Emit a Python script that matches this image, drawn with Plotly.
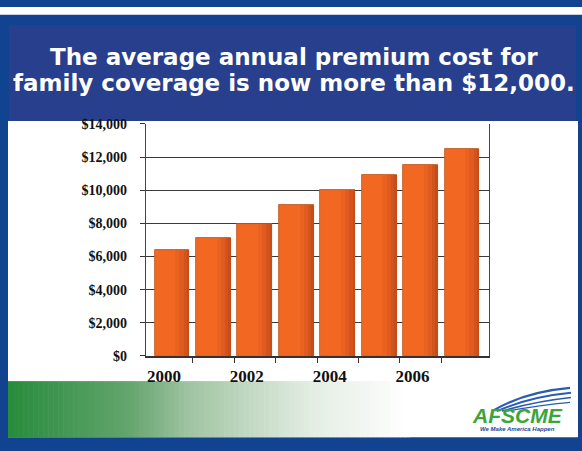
import plotly.graph_objects as go

# ---- data ----
years = [2000, 2001, 2002, 2003, 2004, 2005, 2006, 2007]
premiums = [6400, 7100, 7950, 9100, 10000, 10900, 11500, 12500]
y_ticks = [0, 2000, 4000, 6000, 8000, 10000, 12000, 14000]
x_label_years = [2000, 2002, 2004, 2006]
title_lines = ["The average annual premium cost for",
               "family coverage is now more than $12,000."]

W, H = 582, 451


def px(x):
    return x / W


def py(y):
    return 1 - y / H


fig = go.Figure()

# main cylinder body
fig.add_trace(go.Bar(
    x=years, y=premiums, width=0.84,
    marker=dict(color="#f26822", line=dict(color="#b9561c", width=0.8)),
    hoverinfo="x+y", showlegend=False,
))
# shading toward the right edge (cylinder look)
for off, w, c in [(0.08, 0.34, "#ea6220"), (0.18, 0.24, "#df5b1f"),
                  (0.28, 0.14, "#d2541d"), (0.36, 0.06, "#c44d1b")]:
    fig.add_trace(go.Bar(
        x=years, y=premiums, width=w, offset=off,
        marker=dict(color=c, line=dict(width=0)),
        hoverinfo="skip", showlegend=False,
    ))

shapes = []
# top white strip
shapes.append(dict(type="rect", xref="paper", yref="paper", x0=0, x1=1,
                   y0=py(8), y1=1, fillcolor="white", line=dict(width=0), layer="below"))
# title panel
shapes.append(dict(type="rect", xref="paper", yref="paper", x0=px(9), x1=px(576),
                   y0=py(118), y1=py(19), fillcolor="#283f8d", line=dict(width=0), layer="below"))
# white content area
shapes.append(dict(type="rect", xref="paper", yref="paper", x0=px(8), x1=px(578),
                   y0=py(445), y1=py(118), fillcolor="white", line=dict(width=0), layer="below"))

# green gradient band
stops = [(0.0, (40, 140, 60)), (0.3, (100, 165, 110)), (0.45, (160, 196, 162)),
         (0.75, (226, 236, 226)), (1.0, (255, 255, 255))]


def col(t):
    for (t0, c0), (t1, c1) in zip(stops[:-1], stops[1:]):
        if t0 <= t <= t1:
            f = (t - t0) / (t1 - t0)
            return "rgb(%d,%d,%d)" % tuple(round(a + (b - a) * f) for a, b in zip(c0, c1))
    return "white"


n = 80
gx0, gx1 = 8, 410
for i in range(n):
    a = gx0 + (gx1 - gx0) * i / n
    b = gx0 + (gx1 - gx0) * (i + 1) / n + 0.6
    shapes.append(dict(type="rect", xref="paper", yref="paper", x0=px(a), x1=px(b),
                       y0=py(445), y1=py(387), fillcolor=col(i / (n - 1)),
                       line=dict(width=0), layer="below"))

# logo swoosh
for k, (sx, sy, ex, ey, cx, cy) in enumerate([
        (492, 418, 570, 394, 525, 398),
        (497, 418, 571, 399, 530, 403),
        (502, 418, 571, 404, 535, 408),
        (507, 418, 570, 409, 540, 412)]):
    shapes.append(dict(type="path", xref="paper", yref="paper",
                       path="M %f,%f Q %f,%f %f,%f" % (px(sx), py(sy), px(cx), py(cy), px(ex), py(ey)),
                       line=dict(color="#2a5db0", width=2.2 - k * 0.3)))

annotations = []
for i, t in enumerate(title_lines):
    annotations.append(dict(text=t, xref="paper", yref="paper", x=px(294), y=py(52 + i * 27),
                            showarrow=False, xanchor="center", yanchor="middle",
                            font=dict(family="DejaVu Sans", size=23, color="white", weight="bold")))
annotations.append(dict(text="<i><b>AFSCME</b></i>", xref="paper", yref="paper",
                        x=px(517), y=py(423), showarrow=False, xanchor="center", yanchor="middle",
                        font=dict(family="Liberation Sans", size=21, color="#3aa53a")))
annotations.append(dict(text="<i><b>We Make America Happen</b></i>", xref="paper", yref="paper",
                        x=px(517), y=py(437), showarrow=False, xanchor="center", yanchor="middle",
                        font=dict(family="Liberation Sans", size=6, color="#24489a")))

fig.update_layout(
    width=W, height=H,
    margin=dict(l=0, r=0, t=0, b=0),
    paper_bgcolor="#124391",
    plot_bgcolor="rgba(0,0,0,0)",
    barmode="overlay",
    bargap=0,
    shapes=shapes,
    annotations=annotations,
    xaxis=dict(
        domain=[px(146), px(489)],
        range=[1999.372, 2007.652],
        tickvals=x_label_years, ticktext=[str(v) for v in x_label_years],
        ticks="", ticklabelshift=-8, ticklabelstandoff=4,
        tickfont=dict(family="Liberation Serif", size=17, color="#111", weight="bold"),
        showgrid=False, zeroline=False,
        showline=True, linecolor="#333", linewidth=1.5,
        minor=dict(tickvals=[y + 0.5 for y in years[:-1]], ticks="outside",
                   ticklen=5, tickcolor="#333", tickwidth=1.2, showgrid=False),
        fixedrange=True,
    ),
    yaxis=dict(
        domain=[py(361), py(121)],
        range=[0, 14000],
        tickvals=y_ticks, tickformat="$,",
        ticks="outside", ticklen=5, tickcolor="#333", ticklabelstandoff=10,
        tickfont=dict(family="Liberation Serif", size=14, color="#111", weight="bold"),
        showgrid=True, gridcolor="#3a3a3a", gridwidth=1.3,
        zeroline=False,
        showline=True, linecolor="#444", linewidth=1.3, mirror=True,
        fixedrange=True,
    ),
)

fig.write_html("out.html")
